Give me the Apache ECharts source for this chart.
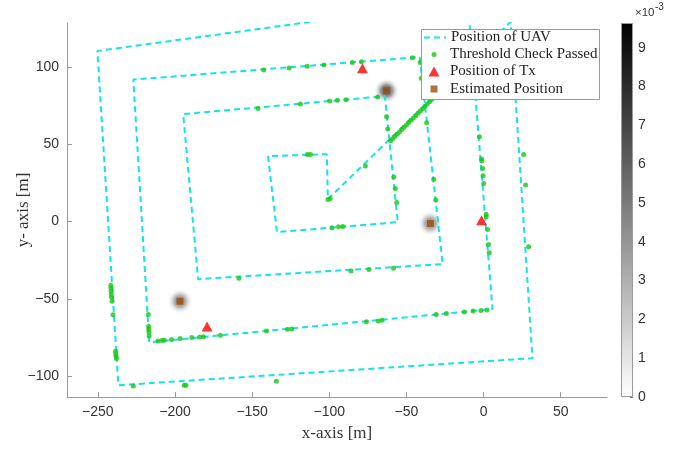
<!DOCTYPE html>
<html>
<head>
<meta charset="utf-8">
<script src="https://cdn.jsdelivr.net/npm/echarts@6/dist/echarts.min.js"></script>
<style>
  html, body { margin: 0; padding: 0; background: #fff; }
  #chart { width: 694px; height: 449px; }
</style>
</head>
<body>
<div id="chart"></div>
<script>
// UAV flight path [m] - starts at centre, diagonal out, then spirals inward
const uavX = [-100.9, 17.5, 31.7, -236.7, -250.3, -10.3, 5.8, -216.7, -227.0, -41.4, -26.5, -185.0, -194.7, -64.0, -55.6, -133.9, -139.7, -101.6, -100.9]
const uavY = [14.4, 129.0, -88.4, -105.9, 110.2, 142.9, -56.6, -78.1, 91.7, 106.3, -27.6, -37.3, 69.4, 81.0, -0.5, -6.9, 42.2, 43.5, 14.4]

// points where the threshold check passed
const passX = [
  -142.5, -126.1, -114.3, -103.5, -85.1, -79.2, -46.1, -41.1, -40.4, -36.9, -32.3, -31.0,
  -146.2, -118.7, -99.8, -94.8, -89.1, -68.6, -62.9, -62.1, -58.2, -57.2, -56.3,
  -76.6,
  -60.3, -59.0, -57.5, -56.0, -54.5, -53.0, -51.5, -50.0, -48.5, -47.0, -45.5, -44.0, -42.5, -41.0, -39.5, -38.0, -36.5, -35.0, -33.5, -32.0, -30.5,
  -114.2, -112.2, -100.9, -99.4,
  -98.3, -94.0, -91.2,
  -158.6, -85.9, -74.3, -58.4,
  -217.3, -217.1, -217.0, -216.9, -216.8, -211.0, -208.6, -207.0, -202.3, -196.6, -189.1, -184.0, -181.6, -170.6,
  -140.7, -127.1, -124.4, -75.9, -68.2, -65.8, -30.7, -24.1, -12.5, -6.8, -1.7, 2.3,
  1.7, 1.7, 2.6, 3.2, 3.7, -2.7, -1.3, -1.1, -0.6, -0.3, 0.1,
  26.0, 27.2, 29.2,
  -241.6, -241.5, -241.4, -241.3, -241.1, -240.8, -240.2, -238.5, -238.4, -238.2, -238.0,
  -227.0, -194.0, -192.9, -134.3
]
const passY = [
  97.9, 99.2, 100.3, 101.2, 102.7, 103.2, 105.8, 102.7, 92.5, 63.8, 27.2, 13.8,
  73.1, 75.9, 77.8, 78.3, 78.7, 80.4, 67.7, 59.7, 28.7, 21.3, 12.3,
  35.8,
  52.1, 53.4, 54.9, 56.4, 57.9, 59.4, 60.9, 62.4, 63.9, 65.4, 66.9, 68.4, 69.9, 71.4, 72.9, 74.4, 75.9, 77.4, 78.9, 80.4, 81.9,
  43.3, 43.3, 14.2, 14.9,
  -4.1, -3.5, -3.2,
  -36.8, -32.0, -31.0, -30.2,
  -60.2, -67.7, -69.7, -71.6, -74.0, -77.3, -76.9, -76.8, -76.3, -75.7, -75.0, -74.7, -74.5, -73.5,
  -70.8, -69.7, -69.5, -64.9, -64.3, -63.8, -60.2, -59.5, -58.5, -57.9, -57.5, -57.2,
  4.7, 3.1, -5.2, -14.9, -20.3, 54.7, 40.3, 39.0, 34.3, 29.5, 24.6,
  43.3, 23.5, -16.4,
  -41.2, -43.1, -45.1, -47.0, -49.0, -51.6, -60.3, -83.9, -85.5, -87.1, -88.6,
  -106.4, -105.9, -105.9, -103.3
]

// transmitters and estimates
const txX = [-78.5, -1.3, -179.2]
const txY = [99.0, 0.8, -67.9]
const estX = [-62.9, -34.5, -196.8]
const estY = [84.5, -1.3, -51.6]
const estPeak = [9.0, 6.2, 6.6]   // x 1e-3

const xTicks = [-250, -200, -150, -100, -50, 0, 50]
const yTicks = [-100, -50, 0, 50, 100]
const cbarTicks = [0, 1, 2, 3, 4, 5, 6, 7, 8, 9]
const cbarMax = 9.64

const sans = "'Liberation Sans', Arial, sans-serif"
const serif = "'Liberation Serif', 'Times New Roman', serif"
const minus = v => String(v).replace('-', '\u2212')

const zip = (a, b) => a.map((v, i) => [v, b[i]])

const blobData = estX.map((x, i) => {
  const g = Math.round(255 * (1 - estPeak[i] / cbarMax))
  return {
    value: [x, estY[i]],
    itemStyle: {
      color: {
        type: 'radial', x: 0.5, y: 0.5, r: 0.5,
        colorStops: [
          { offset: 0, color: `rgba(${g},${g},${g},1)` },
          { offset: 0.45, color: `rgba(${g},${g},${g},0.55)` },
          { offset: 1, color: 'rgba(255,255,255,0)' }
        ]
      }
    }
  }
})

const chart = echarts.init(document.getElementById('chart'))

// one legend per entry so each icon keeps its own size; text starts at x=450
function legendItem(name, cy, w, h, extra) {
  const left = 434 - w / 2
  return Object.assign({
    data: [name],
    left: left,
    top: cy - 8,
    padding: 0,
    align: 'left',
    itemWidth: w,
    itemHeight: h,
    itemGap: 0,
    selectedMode: false,
    textStyle: {
      fontFamily: serif, fontSize: 15, color: '#222', lineHeight: 16,
      padding: [0, 0, 0, 450 - (left + w + 5)]
    }
  }, extra || {})
}

chart.setOption({
  animation: false,
  backgroundColor: '#fff',
  grid: [
    { left: 67, top: 23, width: 540, height: 374, outerBoundsMode: 'none', containLabel: false },
    { left: 621, top: 23, width: 12, height: 374, outerBoundsMode: 'none', containLabel: false }
  ],
  xAxis: [
    {
      type: 'value', gridIndex: 0, min: -270, max: 80,
      name: 'x-axis [m]', nameLocation: 'middle', nameGap: 28, nameMoveOverlap: false,
      nameTextStyle: { fontFamily: serif, fontSize: 17, color: '#333' },
      axisLine: { show: true, onZero: false, lineStyle: { color: '#999', width: 1 } },
      axisTick: { show: true, inside: true, length: 5, customValues: xTicks, lineStyle: { color: '#999' } },
      axisLabel: { customValues: xTicks, formatter: minus, margin: 8, fontFamily: sans, fontSize: 14, color: '#333' },
      splitLine: { show: false }
    },
    {
      type: 'category', gridIndex: 1, data: ['c'],
      axisLine: { show: false }, axisTick: { show: false }, axisLabel: { show: false }
    }
  ],
  yAxis: [
    {
      type: 'value', gridIndex: 0, min: -113.5, max: 128.3,
      name: 'y- axis [m]', nameLocation: 'middle', nameGap: 35, nameRotate: 90, nameMoveOverlap: false,
      nameTextStyle: { fontFamily: serif, fontSize: 17, color: '#333' },
      axisLine: { show: true, onZero: false, lineStyle: { color: '#999', width: 1 } },
      axisTick: { show: true, inside: true, length: 5, customValues: yTicks, lineStyle: { color: '#999' } },
      axisLabel: { customValues: yTicks, formatter: minus, margin: 8, fontFamily: sans, fontSize: 14, color: '#333' },
      splitLine: { show: false }
    },
    {
      type: 'value', gridIndex: 1, min: 0, max: cbarMax, position: 'right',
      axisLine: { show: false },
      axisTick: { show: true, inside: true, length: 3, customValues: cbarTicks, lineStyle: { color: '#777' } },
      axisLabel: { customValues: cbarTicks, margin: 5, fontFamily: sans, fontSize: 14, color: '#333' },
      splitLine: { show: false }
    }
  ],
  legend: [
    legendItem('Position of UAV', 37.5, 22, 14, { itemStyle: { opacity: 0 } }),
    legendItem('Threshold Check Passed', 54.5, 5, 5),
    legendItem('Position of Tx', 71.5, 11, 10),
    legendItem('Estimated Position', 89, 7, 7)
  ],
  graphic: [
    { type: 'rect', z: 3, shape: { x: 421.5, y: 29.5, width: 178, height: 70 },
      style: { fill: '#fff', stroke: '#999', lineWidth: 1 } },
    { type: 'text', z: 3, x: 635, y: 7, style: { text: '\u00d710', fontFamily: sans, fontSize: 11.5, fill: '#333' } },
    { type: 'text', z: 3, x: 655, y: 2, style: { text: '-3', fontFamily: sans, fontSize: 10, fill: '#333' } }
  ],
  series: [
    {
      name: 'density', type: 'scatter', xAxisIndex: 0, yAxisIndex: 0,
      symbol: 'circle', symbolSize: 26, data: blobData, z: 1, silent: true
    },
    {
      name: 'Position of UAV', type: 'line', xAxisIndex: 0, yAxisIndex: 0,
      data: zip(uavX, uavY), symbol: 'none', clip: true,
      lineStyle: { color: '#14e3ea', width: 2, type: [6, 4] }, z: 2
    },
    {
      name: 'Threshold Check Passed', type: 'scatter', xAxisIndex: 0, yAxisIndex: 0,
      data: zip(passX, passY), symbol: 'circle', symbolSize: 5,
      itemStyle: { color: '#16c816' }, z: 2
    },
    {
      name: 'Position of Tx', type: 'scatter', xAxisIndex: 0, yAxisIndex: 0,
      data: zip(txX, txY), symbol: 'triangle', symbolSize: [11, 10],
      itemStyle: { color: '#ff0000' }, z: 2
    },
    {
      name: 'Estimated Position', type: 'scatter', xAxisIndex: 0, yAxisIndex: 0,
      data: zip(estX, estY), symbol: 'rect', symbolSize: 7,
      itemStyle: { color: '#9c500c' }, z: 2
    },
    {
      name: 'colorbar', type: 'bar', xAxisIndex: 1, yAxisIndex: 1,
      data: [cbarMax], barWidth: '100%', silent: true,
      itemStyle: {
        borderColor: '#999', borderWidth: 1,
        color: {
          type: 'linear', x: 0, y: 0, x2: 0, y2: 1,
          colorStops: [
            { offset: 0, color: '#000' },
            { offset: 1, color: '#fff' }
          ]
        }
      }
    }
  ]
})
</script>
</body>
</html>
